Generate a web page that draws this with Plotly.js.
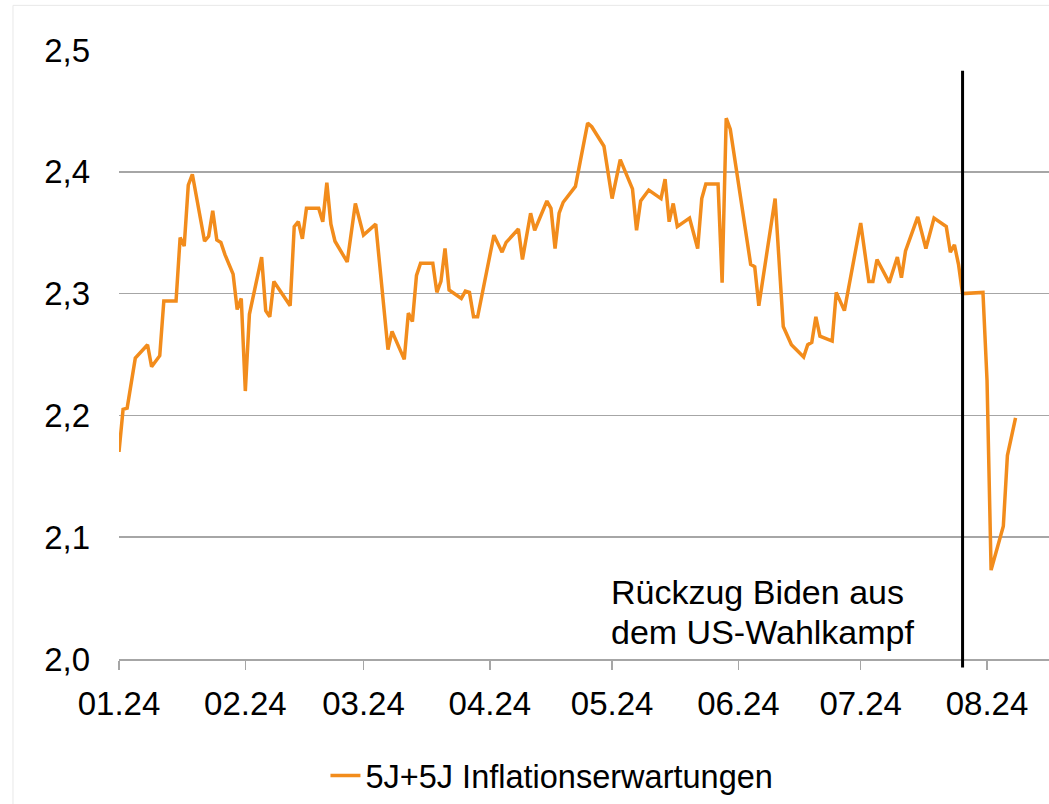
<!DOCTYPE html>
<html>
<head>
<meta charset="utf-8">
<script src="https://cdn.plot.ly/plotly-3.0.1.min.js"></script>
<style>
html,body{margin:0;padding:0;background:#fff;}
#chart{width:1049px;height:804px;}
</style>
</head>
<body>
<div id="chart"></div>
<script>
// 5J+5J Inflationserwartungen
const dates = [
 '2024-01-01','2024-01-02','2024-01-03','2024-01-05','2024-01-08','2024-01-09','2024-01-11','2024-01-12',
 '2024-01-15','2024-01-16','2024-01-17','2024-01-18','2024-01-19','2024-01-22','2024-01-23','2024-01-24',
 '2024-01-25','2024-01-26','2024-01-27','2024-01-29','2024-01-30','2024-01-31','2024-02-01','2024-02-02',
 '2024-02-05','2024-02-06','2024-02-07','2024-02-08','2024-02-12','2024-02-13','2024-02-14','2024-02-15',
 '2024-02-16','2024-02-19','2024-02-20','2024-02-21','2024-02-22','2024-02-23','2024-02-26','2024-02-28',
 '2024-03-01','2024-03-04','2024-03-07','2024-03-08','2024-03-11','2024-03-12','2024-03-13','2024-03-14',
 '2024-03-15','2024-03-18','2024-03-19','2024-03-20','2024-03-21','2024-03-22','2024-03-25','2024-03-26',
 '2024-03-27','2024-03-28','2024-03-29','2024-04-02','2024-04-04','2024-04-05','2024-04-08','2024-04-09',
 '2024-04-11','2024-04-12','2024-04-15','2024-04-16','2024-04-17','2024-04-18','2024-04-19','2024-04-22',
 '2024-04-25','2024-04-26','2024-04-29','2024-05-01','2024-05-03','2024-05-06','2024-05-07','2024-05-08',
 '2024-05-10','2024-05-13','2024-05-14','2024-05-15','2024-05-16','2024-05-17','2024-05-20','2024-05-22',
 '2024-05-23','2024-05-24','2024-05-27','2024-05-28','2024-05-29','2024-05-30','2024-06-04','2024-06-05',
 '2024-06-06','2024-06-10','2024-06-12','2024-06-14','2024-06-17','2024-06-18','2024-06-19','2024-06-20',
 '2024-06-21','2024-06-24','2024-06-25','2024-06-27','2024-07-01','2024-07-03','2024-07-04','2024-07-05',
 '2024-07-08','2024-07-10','2024-07-11','2024-07-12','2024-07-15','2024-07-17','2024-07-19','2024-07-22',
 '2024-07-23','2024-07-24','2024-07-25','2024-07-26','2024-07-31','2024-08-01','2024-08-02','2024-08-05',
 '2024-08-06','2024-08-07','2024-08-08'
];
const values = [
 2.170,2.205,2.206,2.247,2.258,2.240,2.249,2.294,
 2.294,2.346,2.339,2.389,2.398,2.343,2.347,2.368,
 2.344,2.342,2.332,2.316,2.287,2.296,2.220,2.283,
 2.330,2.286,2.281,2.310,2.290,2.355,2.359,2.345,
 2.370,2.370,2.359,2.391,2.357,2.343,2.326,2.374,
 2.348,2.357,2.254,2.269,2.246,2.284,2.277,2.315,
 2.325,2.325,2.301,2.310,2.337,2.303,2.296,2.302,
 2.301,2.281,2.281,2.348,2.334,2.342,2.353,2.328,
 2.366,2.352,2.376,2.370,2.337,2.366,2.375,2.388,
 2.440,2.437,2.421,2.378,2.410,2.386,2.352,2.376,
 2.385,2.378,2.394,2.359,2.374,2.355,2.362,2.337,
 2.378,2.390,2.390,2.309,2.444,2.435,2.324,2.322,
 2.290,2.378,2.273,2.258,2.248,2.258,2.260,2.281,
 2.265,2.261,2.301,2.286,2.358,2.310,2.310,2.328,
 2.309,2.330,2.313,2.335,2.363,2.337,2.362,2.355,
 2.334,2.340,2.324,2.300,2.301,2.229,2.073,2.109,
 2.167,2.181,2.198
];
const seriesName = '5J+5J Inflationserwartungen';
const monthTicks = ['2024-01-01','2024-02-01','2024-03-01','2024-04-01','2024-05-01','2024-06-01','2024-07-01','2024-08-01'];
const monthLabels = ['01.24','02.24','03.24','04.24','05.24','06.24','07.24','08.24'];
const yTicks = [2.0,2.1,2.2,2.3,2.4,2.5];
const eventDate = '2024-07-26';
const eventLines = ['Rückzug Biden aus','dem US-Wahlkampf'];
const xRange = ['2024-01-01','2024-08-16 05:00'];
const yRange = [2.0,2.5];

const FONT = '"Liberation Sans", Arial, sans-serif';
const GRID = '#a6a6a6';

const trace = {
  x: dates, y: values, type: 'scatter', mode: 'lines', name: seriesName,
  line: {color: '#f28c1c', width: 3.5}
};

const layout = {
  width: 1049, height: 804,
  margin: {l: 119, r: 0, t: 50, b: 140},
  paper_bgcolor: '#fff', plot_bgcolor: '#fff',
  separators: ',.',
  font: {family: FONT, size: 33, color: '#000'},
  showlegend: true,
  legend: {
    orientation: 'h', x: 0.222, xanchor: 'left', y: -0.192, yanchor: 'middle',
    font: {family: FONT, size: 32.5, color: '#000'}, bgcolor: 'rgba(0,0,0,0)'
  },
  xaxis: {
    type: 'date', range: xRange, tickvals: monthTicks, ticktext: monthLabels,
    ticks: 'outside', ticklen: 9, tickwidth: 1.5, tickcolor: GRID,
    showline: true, linecolor: GRID, linewidth: 1.5,
    showgrid: false, zeroline: false, ticklabelstandoff: 6,
    tickfont: {family: FONT, size: 33, color: '#000'}
  },
  yaxis: {
    range: yRange, tickvals: yTicks, tickformat: '.1f',
    showgrid: true, gridcolor: GRID, gridwidth: 1.5,
    zeroline: false, showline: false, ticks: '',
    ticklabelstandoff: 28,
    tickfont: {family: FONT, size: 33, color: '#000'}
  },
  shapes: [
    {type: 'line', xref: 'x', yref: 'paper', x0: eventDate, x1: eventDate,
     y0: -0.014, y1: 0.966, line: {color: '#000', width: 3}},
    {type: 'rect', xref: 'paper', yref: 'paper', x0: -0.114, x1: 1.2, y0: -0.5, y1: 1.0733,
     line: {color: '#e8e8e8', width: 1}, fillcolor: 'rgba(0,0,0,0)', layer: 'below'}
  ],
  annotations: eventLines.map((t, i) => ({
    text: t, xref: 'paper', yref: 'paper', x: 0.5265, y: i === 0 ? 0.1093 : 0.0445,
    xanchor: 'left', yanchor: 'middle', align: 'left', showarrow: false,
    font: {family: FONT, size: 34, color: '#000'}
  }))
};

Plotly.newPlot('chart', [trace], layout, {displayModeBar: false, staticPlot: true});
</script>
</body>
</html>
